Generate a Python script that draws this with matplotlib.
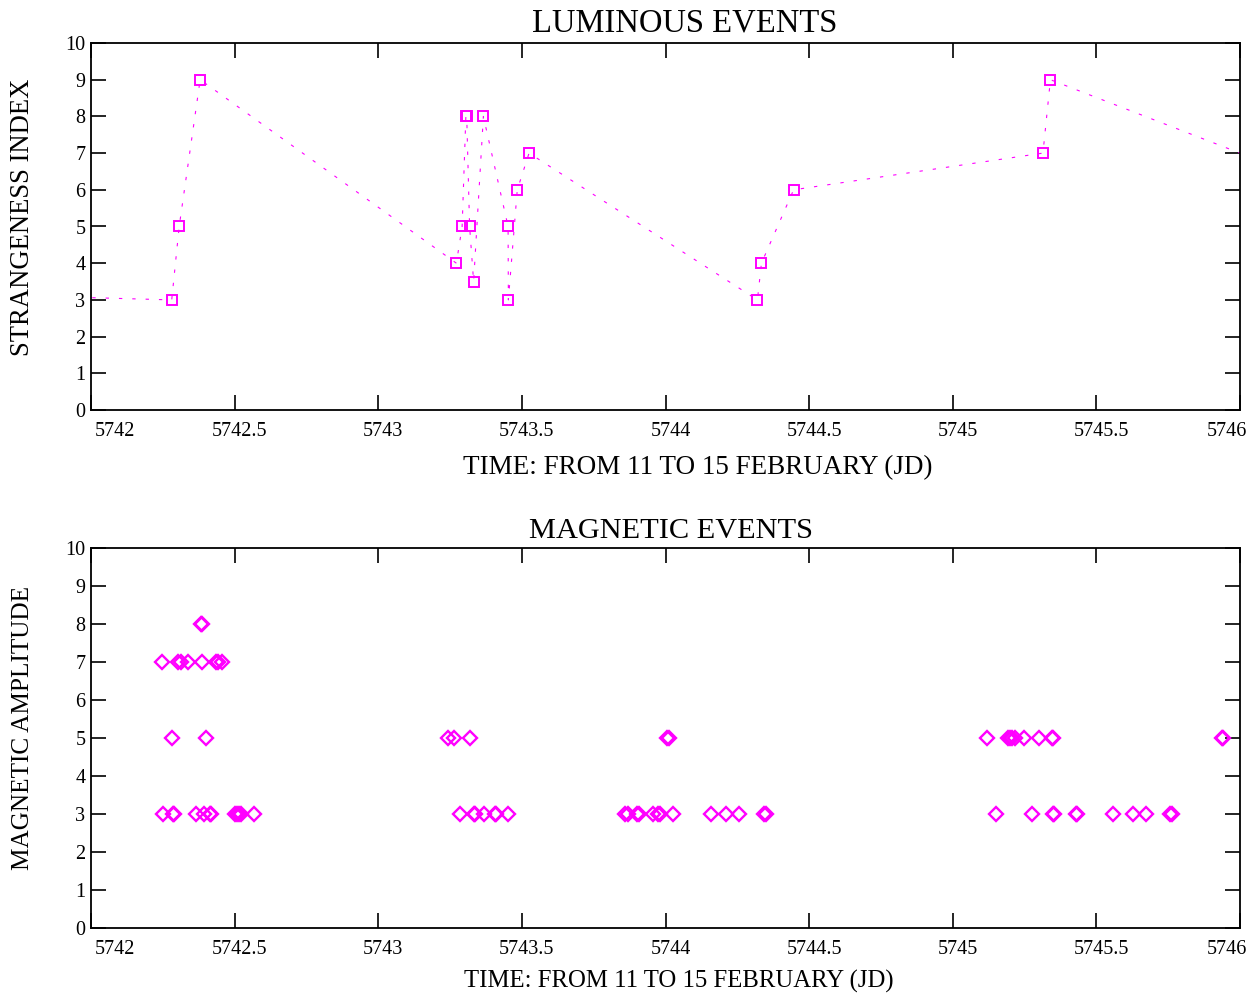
import matplotlib
matplotlib.use("Agg")
import matplotlib.pyplot as plt
import matplotlib.transforms as mtransforms

plt.rcParams['font.family'] = ['Liberation Serif', 'DejaVu Serif']

# luminous events (first and last points lie outside the plotted range)
lum_jd = [5741.50, 5742.281, 5742.307, 5742.380, 5743.272, 5743.292, 5743.305,
          5743.308, 5743.318, 5743.332, 5743.366, 5743.452, 5743.453, 5743.484,
          5743.525, 5744.320, 5744.334, 5744.446, 5745.314, 5745.340, 5746.33]
lum_idx = [3.17, 3, 5, 9, 4, 5, 8, 8, 5, 3.5, 8, 5, 3, 6, 7, 3, 4, 6, 7, 9, 6]

# magnetic events
mag_jd = [5742.248, 5742.304, 5742.312, 5742.336, 5742.387, 5742.435, 5742.443, 5742.455,
          5742.382, 5742.386,
          5742.282, 5742.400,
          5742.251, 5742.286, 5742.289, 5742.365, 5742.393, 5742.414, 5742.418,
          5742.500, 5742.508, 5742.515, 5742.522, 5742.568,
          5743.243, 5743.264, 5743.318,
          5743.283, 5743.333, 5743.338, 5743.367, 5743.406, 5743.410, 5743.452,
          5743.860, 5743.868, 5743.900, 5743.907, 5743.956, 5743.975, 5743.981, 5744.025,
          5744.005, 5744.011,
          5744.159, 5744.211, 5744.257, 5744.344, 5744.350,
          5745.118, 5745.191, 5745.200, 5745.208, 5745.217, 5745.249, 5745.301,
          5745.344, 5745.350, 5745.936, 5745.942,
          5745.150, 5745.275, 5745.348, 5745.354, 5745.428, 5745.434, 5745.559,
          5745.626, 5745.672, 5745.758, 5745.764]
mag_amp = [7, 7, 7, 7, 7, 7, 7, 7,
           8, 8,
           5, 5,
           3, 3, 3, 3, 3, 3, 3,
           3, 3, 3, 3, 3,
           5, 5, 5,
           3, 3, 3, 3, 3, 3, 3,
           3, 3, 3, 3, 3, 3, 3, 3,
           5, 5,
           3, 3, 3, 3, 3,
           5, 5, 5, 5, 5, 5, 5,
           5, 5, 5, 5,
           3, 3, 3, 3, 3, 3, 3,
           3, 3, 3, 3]

x_ticks = [5742, 5742.5, 5743, 5743.5, 5744, 5744.5, 5745, 5745.5, 5746]
x_labels = ['5742', '5742.5', '5743', '5743.5', '5744', '5744.5', '5745', '5745.5', '5746']
y_ticks = list(range(0, 11))

W, H = 1258, 994
fig = plt.figure(figsize=(W / 100, H / 100), dpi=100)


def px_axes(left, top, right, bottom):
    return fig.add_axes([left / W, 1 - bottom / H, (right - left) / W, (bottom - top) / H])


ax1 = px_axes(91, 43, 1240, 410)
ax2 = px_axes(91, 548, 1240, 928)

magenta = '#ff00ff'
ax1.plot(lum_jd, lum_idx, color=magenta, lw=0.8, linestyle=(0, (3, 9)),
         marker='s', markersize=7, markerfacecolor='none', markeredgecolor=magenta,
         markeredgewidth=1.4)
ax2.plot(mag_jd, mag_amp, linestyle='none', marker='D', markersize=7.5,
         markerfacecolor='none', markeredgecolor=magenta, markeredgewidth=1.7)

for ax in (ax1, ax2):
    ax.set_xlim(5742, 5746)
    ax.set_ylim(0, 10)
    ax.set_xticks(x_ticks)
    ax.set_xticklabels(x_labels)
    ax.set_yticks(y_ticks)
    ax.tick_params(direction='in', length=11, width=1.2, top=True, right=True,
                   labelsize=14.5, color='black')
    ax.tick_params(axis='x', pad=9)
    ax.tick_params(axis='y', pad=4)
    for sp in ax.spines.values():
        sp.set_linewidth(1.3)
    labels = ax.get_xticklabels()
    for i, lab in enumerate(labels):
        if i == 0:
            lab.set_ha('left')
            lab.set_transform(lab.get_transform() + mtransforms.ScaledTranslation(4 / 100, 0, fig.dpi_scale_trans))
        elif i == len(labels) - 1:
            lab.set_ha('right')
            lab.set_transform(lab.get_transform() + mtransforms.ScaledTranslation(7 / 100, 0, fig.dpi_scale_trans))
        else:
            lab.set_transform(lab.get_transform() + mtransforms.ScaledTranslation(5 / 100, 0, fig.dpi_scale_trans))


def ftext(x, y, s, size, rot=0):
    fig.text(x / W, 1 - y / H, s, fontsize=size, ha='center', va='center', rotation=rot)


ftext(685, 23, 'LUMINOUS EVENTS', 23.5)
ftext(698, 468, 'TIME: FROM 11 TO 15 FEBRUARY (JD)', 19.5)
ftext(23, 217, 'STRANGENESS INDEX', 19.2, rot=90)
ftext(671, 531, 'MAGNETIC EVENTS', 21.9)
ftext(679, 981, 'TIME: FROM 11 TO 15 FEBRUARY (JD)', 17.8)
ftext(23, 728, 'MAGNETIC AMPLITUDE', 18.2, rot=90)

fig.savefig('out.png', dpi=100)
